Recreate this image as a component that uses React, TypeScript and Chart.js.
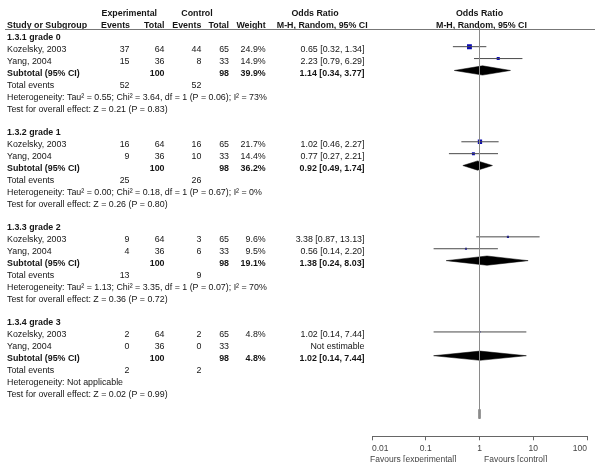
import React, { useEffect, useRef } from "react";
import { Chart, registerables } from "chart.js";

Chart.register(...registerables);

// ---------------- data ----------------
const subgroups = ["1.3.1 grade 0", "1.3.2 grade 1", "1.3.3 grade 2", "1.3.4 grade 3"];
const studies = ["Kozelsky, 2003", "Yang, 2004"];
const expEvents = [[37, 15], [16, 9], [9, 4], [2, 0]];
const expTotals = [[64, 36], [64, 36], [64, 36], [64, 36]];
const ctrlEvents = [[44, 8], [16, 10], [3, 6], [2, 0]];
const ctrlTotals = [[65, 33], [65, 33], [65, 33], [65, 33]];
const studyWeights: (number | null)[][] = [[24.9, 14.9], [21.7, 14.4], [9.6, 9.5], [4.8, null]];
const studyOR: (number | null)[][] = [[0.65, 2.23], [1.02, 0.77], [3.38, 0.56], [1.02, null]];
const studyLow: (number | null)[][] = [[0.32, 0.79], [0.46, 0.27], [0.87, 0.14], [0.14, null]];
const studyHigh: (number | null)[][] = [[1.34, 6.29], [2.27, 2.21], [13.13, 2.2], [7.44, null]];
const subExpTotal = [100, 100, 100, 100];
const subCtrlTotal = [98, 98, 98, 98];
const subWeights = [39.9, 36.2, 19.1, 4.8];
const subOR = [1.14, 0.92, 1.38, 1.02];
const subLow = [0.34, 0.49, 0.24, 0.14];
const subHigh = [3.77, 1.74, 8.03, 7.44];
const totalExpEvents = [52, 25, 13, 2];
const totalCtrlEvents = [52, 26, 9, 2];
const heterogeneity = [
  "Heterogeneity: Tau² = 0.55; Chi² = 3.64, df = 1 (P = 0.06); I² = 73%",
  "Heterogeneity: Tau² = 0.00; Chi² = 0.18, df = 1 (P = 0.67); I² = 0%",
  "Heterogeneity: Tau² = 1.13; Chi² = 3.35, df = 1 (P = 0.07); I² = 70%",
  "Heterogeneity: Not applicable",
];
const overallEffect = [
  "Test for overall effect: Z = 0.21 (P = 0.83)",
  "Test for overall effect: Z = 0.26 (P = 0.80)",
  "Test for overall effect: Z = 0.36 (P = 0.72)",
  "Test for overall effect: Z = 0.02 (P = 0.99)",
];
const xTicks = [0.01, 0.1, 1, 10, 100];
const favoursLeft = "Favours [experimental]";
const favoursRight = "Favours [control]";

// ---------------- layout helpers ----------------
const ROWS_PER_GROUP = 8;
const rowOf = (g: number, k: number) => g * ROWS_PER_GROUP + k;
const FONT = '"Liberation Sans", Arial, sans-serif';
const FS = 8.85;
const DIAMOND_HALF = 0.39;
const fmtCI = (o: number, l: number, h: number) => `${o.toFixed(2)} [${l.toFixed(2)}, ${h.toFixed(2)}]`;

function buildDatasets() {
  const ds: any[] = [];
  // null line
  ds.push({
    data: [{ x: 1, y: -0.6 }, { x: 1, y: 32.3 }],
    showLine: true, borderColor: "#8a8a8a", borderWidth: 1, pointRadius: 0, clip: false,
  });
  ds.push({
    data: [{ x: 1, y: 31.5 }, { x: 1, y: 32.3 }],
    showLine: true, borderColor: "#333", borderWidth: 2, pointRadius: 0,
  });
  // CI lines
  subgroups.forEach((_, g) => {
    studies.forEach((__, s) => {
      const lo = studyLow[g][s], hi = studyHigh[g][s];
      if (lo == null || hi == null) return;
      const r = rowOf(g, 1 + s);
      ds.push({
        data: [{ x: lo, y: r }, { x: hi, y: r }],
        showLine: true, borderColor: "#4a4a4a", borderWidth: 1, pointRadius: 0,
      });
    });
  });
  // squares
  const sq: any[] = [];
  const rad: number[] = [];
  subgroups.forEach((_, g) => {
    studies.forEach((__, s) => {
      const o = studyOR[g][s], w = studyWeights[g][s];
      if (o == null || w == null) return;
      sq.push({ x: o, y: rowOf(g, 1 + s) });
      rad.push((0.18 * w + 0.4) / Math.SQRT2);
    });
  });
  ds.push({
    data: sq, pointStyle: "rect", pointRadius: rad, backgroundColor: "#0a0ab4",
    borderWidth: 0, showLine: false,
  });
  // diamonds
  subgroups.forEach((_, g) => {
    const r = rowOf(g, 3);
    ds.push({
      data: [
        { x: subLow[g], y: r },
        { x: subOR[g], y: r - DIAMOND_HALF },
        { x: subHigh[g], y: r },
        { x: subOR[g], y: r + DIAMOND_HALF },
        { x: subLow[g], y: r },
      ],
      showLine: true, fill: "shape", backgroundColor: "#000", borderColor: "#000",
      borderWidth: 0.5, pointRadius: 0, tension: 0,
    });
  });
  return ds;
}

const tablePlugin = {
  id: "forestTable",
  afterDraw(chart: any) {
    const ctx: CanvasRenderingContext2D = chart.ctx;
    const ys = chart.scales.y;
    const xs = chart.scales.x;
    const py = (r: number) => ys.getPixelForValue(r) + 3;
    const txt = (s: string, x: number, r: number, align: CanvasTextAlign = "left", bold = false, color = "#151515", size = FS) => {
      ctx.save();
      ctx.font = `${bold ? "bold " : ""}${size}px ${FONT}`;
      ctx.fillStyle = color;
      ctx.textAlign = align;
      ctx.textBaseline = "middle";
      ctx.fillText(s, x, py(r));
      ctx.restore();
    };
    const cx1 = xs.getPixelForValue(1);
    // header
    txt("Experimental", 129.3, -2.05, "center", true);
    txt("Control", 197, -2.05, "center", true);
    txt("Odds Ratio", 315, -2.05, "center", true);
    txt("Odds Ratio", cx1, -2.05, "center", true);
    txt("Study or Subgroup", 7, -1.05, "left", true);
    txt("Events", 130, -1.05, "right", true);
    txt("Total", 164.5, -1.05, "right", true);
    txt("Events", 201.3, -1.05, "right", true);
    txt("Total", 229, -1.05, "right", true);
    txt("Weight", 265.7, -1.05, "right", true);
    txt("M-H, Random, 95% CI", 367.7, -1.05, "right", true);
    txt("M-H, Random, 95% CI", cx1 + 2, -1.05, "center", true);
    // header rule
    ctx.save();
    ctx.strokeStyle = "#777";
    ctx.lineWidth = 1;
    ctx.beginPath();
    const ty = Math.round(chart.chartArea.top) + 0.5;
    ctx.moveTo(5, ty);
    ctx.lineTo(595, ty);
    ctx.stroke();
    ctx.restore();

    subgroups.forEach((name, g) => {
      txt(name, 7, rowOf(g, 0), "left", true);
      studies.forEach((st, s) => {
        const r = rowOf(g, 1 + s);
        txt(st, 7, r);
        txt(String(expEvents[g][s]), 129.5, r, "right");
        txt(String(expTotals[g][s]), 164.5, r, "right");
        txt(String(ctrlEvents[g][s]), 201.3, r, "right");
        txt(String(ctrlTotals[g][s]), 229, r, "right");
        const w = studyWeights[g][s];
        if (w != null) txt(`${w.toFixed(1)}%`, 265.7, r, "right");
        const o = studyOR[g][s], l = studyLow[g][s], h = studyHigh[g][s];
        if (o != null && l != null && h != null) txt(fmtCI(o, l, h), 364.5, r, "right");
        else txt("Not estimable", 364.5, r, "right");
      });
      const rs = rowOf(g, 3);
      txt("Subtotal (95% CI)", 7, rs, "left", true);
      txt(String(subExpTotal[g]), 164.5, rs, "right", true);
      txt(String(subCtrlTotal[g]), 229, rs, "right", true);
      txt(`${subWeights[g].toFixed(1)}%`, 265.7, rs, "right", true);
      txt(fmtCI(subOR[g], subLow[g], subHigh[g]), 364.5, rs, "right", true);
      const rt = rowOf(g, 4);
      txt("Total events", 7, rt);
      txt(String(totalExpEvents[g]), 129.5, rt, "right");
      txt(String(totalCtrlEvents[g]), 201.3, rt, "right");
      txt(heterogeneity[g], 7, rowOf(g, 5));
      txt(overallEffect[g], 7, rowOf(g, 6));
    });

    // favours labels
    ctx.save();
    ctx.font = `8.5px ${FONT}`;
    ctx.fillStyle = "#444";
    ctx.textBaseline = "middle";
    const fy = xs.top + 23;
    ctx.textAlign = "right";
    ctx.fillText(favoursLeft, cx1 - 23, fy);
    ctx.textAlign = "left";
    ctx.fillText(favoursRight, cx1 + 4.5, fy);
    ctx.restore();
  },
};

export default function App() {
  const ref = useRef<HTMLCanvasElement>(null);
  useEffect(() => {
    document.body.style.margin = "0";
    const canvas = ref.current!;
    const chart = new Chart(canvas, {
      type: "scatter",
      data: { datasets: buildDatasets() },
      options: {
        animation: false,
        responsive: false,
        devicePixelRatio: 1,
        layout: { padding: { left: 372, right: 16, top: 28.5, bottom: 4.5 } },
        plugins: { legend: { display: false }, tooltip: { enabled: false } },
        scales: {
          x: {
            type: "logarithmic",
            min: 0.01,
            max: 100,
            position: "bottom",
            afterBuildTicks: (s: any) => {
              s.ticks = xTicks.map((v) => ({ value: v }));
            },
            ticks: {
              autoSkip: false,
              maxRotation: 0,
              align: "inner",
              color: "#444",
              padding: 3.5,
              font: { family: FONT, size: 8.5 },
              callback: (v: any) => String(v),
            },
            grid: { display: true, drawOnChartArea: false, drawTicks: true, tickLength: 4, color: "#666" },
            border: { display: true, color: "#666", width: 1 },
          },
          y: {
            type: "linear",
            min: -0.53,
            max: 33.78,
            reverse: true,
            display: false,
          },
        },
      } as any,
      plugins: [tablePlugin],
    });
    return () => chart.destroy();
  }, []);
  return (
    <div style={{ width: 603, height: 462 }}>
      <canvas ref={ref} width={603} height={462} style={{ display: "block" }} />
    </div>
  );
}
